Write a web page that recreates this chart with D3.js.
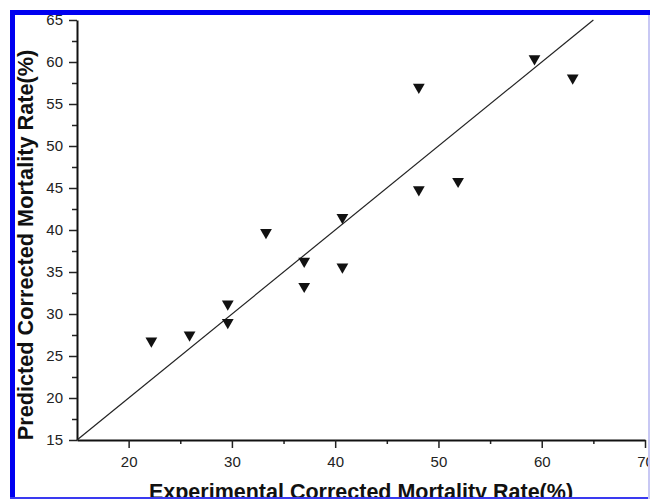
<!DOCTYPE html>
<html lang="en">
  <head>
    <meta charset="utf-8">
    <title>Predicted vs Experimental Corrected Mortality Rate</title>
    <style>
      body { margin: 0; background: #fff; }
      svg { display: block; }
      .tick text { font: 15px "Liberation Sans", Arial, sans-serif; fill: #222; }
      .tick line { stroke: #222; stroke-width: 1.5px; }
      .domain { stroke: #111; stroke-width: 2px; }
      .title { font-family: "Liberation Sans", Arial, sans-serif; font-weight: bold; fill: #111; }
    </style>
  </head>
  <body>
    <svg id="chart"></svg>
    <script src="https://cdn.jsdelivr.net/npm/d3@7"></script>
    <script>
      // values
      var experimental = [22.2, 25.9, 29.6, 29.6, 33.3, 37.0, 37.0, 40.7, 40.7, 48.1, 48.1, 51.9, 59.3, 63.0];
      var predicted    = [26.8, 27.5, 31.2, 29.0, 39.7, 36.3, 33.3, 41.5, 35.6, 57.0, 44.8, 45.8, 60.4, 58.1];
      var xMajor = [20, 30, 40, 50, 60, 70];
      var xMinor = [25, 35, 45, 55, 65];
      var yMajor = [15, 20, 25, 30, 35, 40, 45, 50, 55, 60, 65];
      var yMinor = [17.5, 22.5, 27.5, 32.5, 37.5, 42.5, 47.5, 52.5, 57.5, 62.5];
      var fitLine = [15, 65];

      var width = 650, height = 499;

      var svg = d3.select("#chart")
          .attr("width", width)
          .attr("height", height);

      var x = d3.scaleLinear().domain([15, 70]).range([77, 645]);
      var y = d3.scaleLinear().domain([15, 65]).range([440, 20]);

      // minor ticks first so the axis line sits on top
      svg.append("g")
          .attr("transform", "translate(0,440)")
          .call(d3.axisBottom(x).tickValues(xMinor).tickSize(4).tickFormat(""))
          .select(".domain").remove();
      svg.append("g")
          .attr("transform", "translate(77,0)")
          .call(d3.axisLeft(y).tickValues(yMinor).tickSize(5).tickFormat(""))
          .select(".domain").remove();

      svg.append("g")
          .attr("transform", "translate(0,440)")
          .call(d3.axisBottom(x).tickValues(xMajor).tickSize(8).tickSizeOuter(0).tickPadding(8));

      svg.append("g")
          .attr("transform", "translate(77,0)")
          .call(d3.axisLeft(y).tickValues(yMajor).tickSize(8).tickSizeOuter(0).tickPadding(6));

      // 1:1 line
      svg.append("line")
          .attr("x1", x(fitLine[0])).attr("y1", y(fitLine[0]))
          .attr("x2", x(fitLine[1])).attr("y2", y(fitLine[1]))
          .attr("stroke", "#222")
          .attr("stroke-width", 1.2);

      var tri = d3.symbol().type(d3.symbolTriangle).size(60);
      svg.append("g").selectAll("path")
          .data(experimental)
          .join("path")
          .attr("d", tri)
          .attr("fill", "#111")
          .attr("transform", function(d, i) {
            return "translate(" + x(d) + "," + y(predicted[i]) + ") rotate(180)";
          });

      // axis titles
      svg.append("text")
          .attr("class", "title")
          .style("font-size", "21.5px")
          .attr("x", 361)
          .attr("y", 499)
          .attr("text-anchor", "middle")
          .text("Experimental Corrected Mortality Rate(%)");

      svg.append("text")
          .attr("class", "title")
          .style("font-size", "21.7px")
          .attr("transform", "translate(33,245) rotate(-90)")
          .attr("text-anchor", "middle")
          .text("Predicted Corrected Mortality Rate(%)");

      // blue frame around the figure
      svg.append("rect").attr("x", 0).attr("y", 0).attr("width", 650).attr("height", 10).attr("fill", "#fff");
      svg.append("rect").attr("x", 0).attr("y", 0).attr("width", 10).attr("height", 499).attr("fill", "#fff");
      svg.append("rect").attr("x", 10).attr("y", 10).attr("width", 640).attr("height", 5).attr("fill", "#0000f0");
      svg.append("rect").attr("x", 10).attr("y", 10).attr("width", 5).attr("height", 489).attr("fill", "#0000f0");
      svg.append("rect").attr("x", 10).attr("y", 497).attr("width", 640).attr("height", 2).attr("fill", "#3a3af0");
      svg.append("rect").attr("x", 648).attr("y", 15).attr("width", 2).attr("height", 484).attr("fill", "#c8c8f4");
    </script>
  </body>
</html>
